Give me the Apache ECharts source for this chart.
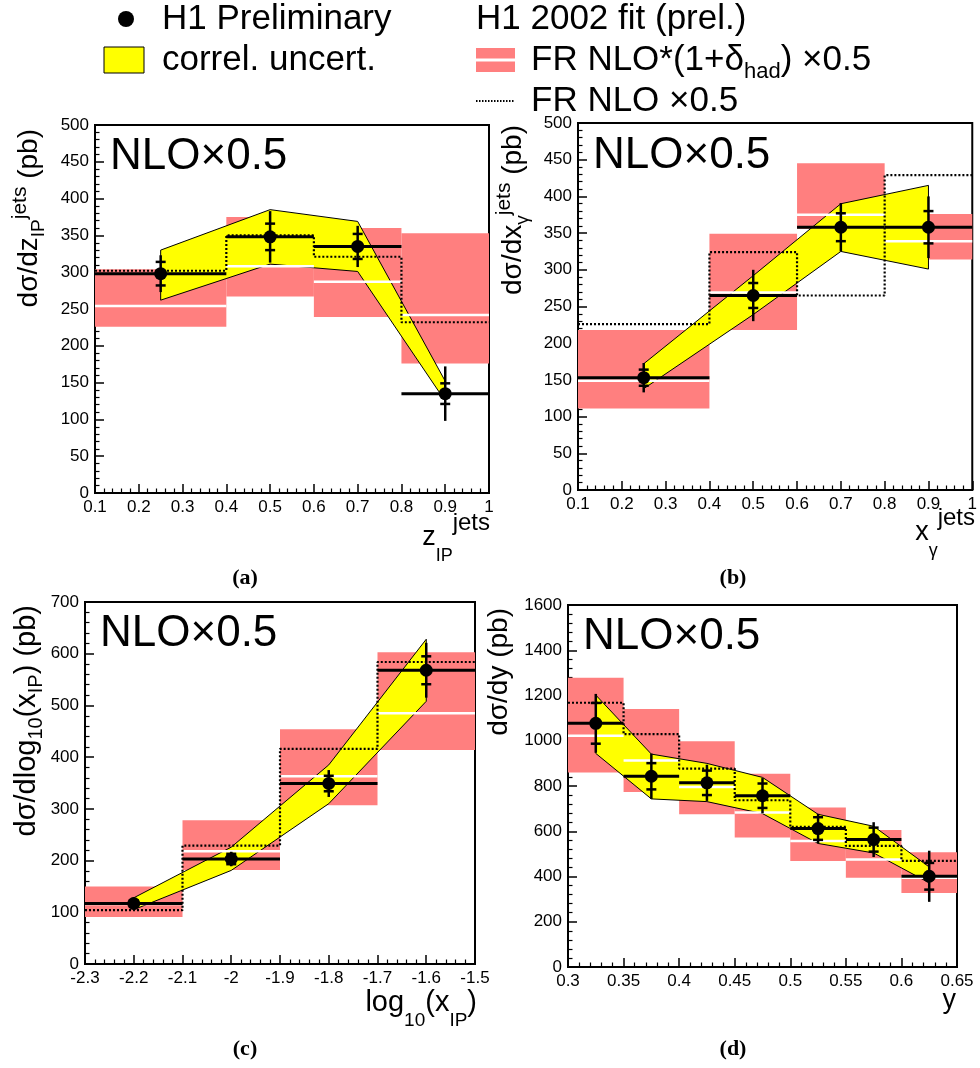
<!DOCTYPE html>
<html><head><meta charset="utf-8">
<script src="https://cdn.jsdelivr.net/npm/echarts@6/dist/echarts.min.js"></script>
<style>html,body{margin:0;padding:0;background:#fff}#c{width:980px;height:1068px}</style>
</head><body><div id="c"></div>
<script>
// ---------- Panel (a): z_IP^jets ----------
const aRange = [0.1, 1.0, 0.1, 0, 500, 50];
const aBinLo = [0.1, 0.4, 0.6, 0.8];
const aBinHi = [0.4, 0.6, 0.8, 1.0];
const aX = [0.25, 0.5, 0.7, 0.9];
const aY = [298, 348, 335, 135];
const aStat = [16, 18, 17, 14];
const aTot = [25, 35, 28, 37];
const aBandUp = [330, 385, 369, 152];
const aBandLow = [262, 311, 301, 125];
const aFrUp = [304, 375, 360, 353];
const aFrLow = [226, 267, 239, 176];
const aFrMid = [254, 308, 287, 242];
const aNlo = [302, 350, 321, 232];

// ---------- Panel (b): x_gamma^jets ----------
const bRange = [0.1, 1.0, 0.1, 0, 500, 50];
const bBinLo = [0.1, 0.4, 0.6, 0.8];
const bBinHi = [0.4, 0.6, 0.8, 1.0];
const bX = [0.25, 0.5, 0.7, 0.9];
const bY = [153, 265, 358, 358];
const bStat = [11, 17, 19, 22];
const bTot = [20, 35, 33, 42];
const bBandUp = [172, 292, 390, 415];
const bBandLow = [138, 239, 325, 301];
const bFrUp = [218, 349, 445, 376];
const bFrLow = [111, 218, 356, 314];
const bFrMid = [149, 269, 375, 339];
const bNlo = [226, 324, 265, 429];

// ---------- Panel (c): log10(x_IP) ----------
const cRange = [-2.3, -1.5, 0.1, 0, 700, 100];
const cBinLo = [-2.3, -2.1, -1.9, -1.7];
const cBinHi = [-2.1, -1.9, -1.7, -1.5];
const cX = [-2.2, -2.0, -1.8, -1.6];
const cY = [117, 203, 349, 568];
const cStat = [6, 10, 15, 27];
const cTot = [12, 14, 26, 53];
const cBandUp = [128, 226, 385, 628];
const cBandLow = [105, 181, 310, 508];
const cFrUp = [150, 278, 454, 603];
const cFrLow = [91, 182, 307, 414];
const cFrMid = [116, 218, 363, 485];
const cNlo = [104, 229, 416, 584];

// ---------- Panel (d): y ----------
const dRange = [0.3, 0.65, 0.05, 0, 1600, 200];
const dBinLo = [0.30, 0.35, 0.40, 0.45, 0.50, 0.55, 0.60];
const dBinHi = [0.35, 0.40, 0.45, 0.50, 0.55, 0.60, 0.65];
const dX = [0.325, 0.375, 0.425, 0.475, 0.525, 0.575, 0.625];
const dY = [1077, 843, 814, 757, 612, 563, 401];
const dStat = [90, 58, 54, 54, 50, 53, 59];
const dTot = [130, 100, 80, 78, 65, 77, 113];
const dBandUp = [1202, 941, 900, 838, 675, 622, 442];
const dBandLow = [944, 743, 731, 678, 546, 504, 372];
const dFrUp = [1279, 1140, 998, 854, 705, 605, 507];
const dFrLow = [860, 774, 675, 572, 469, 395, 327];
const dFrMid = [1022, 913, 796, 683, 557, 475, 394];
const dNlo = [1168, 1029, 877, 737, 619, 535, 469];

const FONT = "'Liberation Sans', Arial, Helvetica, sans-serif";
const RED = '#ff7f7f';
const YEL = '#ffff00';

const grids = [
  {left: 95, top: 125, width: 394, height: 368},
  {left: 578, top: 123, width: 395, height: 367},
  {left: 85, top: 602, width: 390, height: 362},
  {left: 568, top: 605, width: 389, height: 362}
];

function fmt(v) { return String(+(+v).toFixed(3)); }

function xAx(gi, r) {
  return {type: 'value', gridIndex: gi, min: r[0], max: r[1], interval: r[2],
    axisLine: {show: true, onZero: false, lineStyle: {color: '#000', width: 2}},
    axisTick: {show: true, inside: true, length: 9, lineStyle: {color: '#000', width: 1.5}},
    minorTick: {show: true, splitNumber: 5, length: 4.5, lineStyle: {color: '#000', width: 1.2}},
    splitLine: {show: false}, minorSplitLine: {show: false},
    axisLabel: {color: '#000', fontSize: 17, fontFamily: FONT, margin: 6, formatter: fmt}};
}
function yAx(gi, r) {
  return {type: 'value', gridIndex: gi, min: r[3], max: r[4], interval: r[5],
    axisLine: {show: true, onZero: false, lineStyle: {color: '#000', width: 2}},
    axisTick: {show: true, inside: true, length: 9, lineStyle: {color: '#000', width: 1.5}},
    minorTick: {show: true, splitNumber: 5, length: 4.5, lineStyle: {color: '#000', width: 1.2}},
    splitLine: {show: false}, minorSplitLine: {show: false},
    axisLabel: {color: '#000', fontSize: 17, fontFamily: FONT, margin: 6, formatter: fmt}};
}

function panelSeries(gi, lo, hi, xs, ys, st, tot, bUp, bLow, fUp, fLow, fMid, nlo) {
  const s = [];
  // NLO*(1+delta_had) band boxes
  s.push({type: 'custom', xAxisIndex: gi, yAxisIndex: gi, z: 1, silent: true,
    data: lo.map((l, i) => [l, hi[i], fLow[i], fUp[i]]),
    renderItem: (p, api) => {
      const p0 = api.coord([api.value(0), api.value(3)]);
      const p1 = api.coord([api.value(1), api.value(2)]);
      return {type: 'rect', shape: {x: p0[0], y: p0[1], width: p1[0] - p0[0], height: p1[1] - p0[1]},
        style: {fill: RED}};
    }});
  // correlated uncertainty band
  s.push({type: 'custom', xAxisIndex: gi, yAxisIndex: gi, z: 2, silent: true,
    data: xs.map((x, i) => [x, bUp[i], bLow[i]]),
    renderItem: (p, api) => {
      if (p.dataIndex !== 0) return {type: 'group', children: []};
      const up = xs.map((x, i) => api.coord([x, bUp[i]]));
      const dn = xs.map((x, i) => api.coord([x, bLow[i]])).reverse();
      return {type: 'polygon', shape: {points: up.concat(dn)},
        style: {fill: YEL, stroke: '#000', lineWidth: 1}};
    }});
  // central white lines
  s.push({type: 'custom', xAxisIndex: gi, yAxisIndex: gi, z: 3, silent: true,
    data: lo.map((l, i) => [l, hi[i], fMid[i]]),
    renderItem: (p, api) => {
      const p0 = api.coord([api.value(0), api.value(2)]);
      const p1 = api.coord([api.value(1), api.value(2)]);
      return {type: 'line', shape: {x1: p0[0], y1: p0[1], x2: p1[0], y2: p1[1]},
        style: {stroke: '#fff', lineWidth: 2.5}};
    }});
  // FR NLO x0.5 dotted histogram
  const stepData = lo.map((l, i) => [l, nlo[i]]);
  stepData.push([hi[hi.length - 1], nlo[nlo.length - 1]]);
  s.push({type: 'line', xAxisIndex: gi, yAxisIndex: gi, z: 4, silent: true, step: 'end',
    symbol: 'none', data: stepData,
    lineStyle: {color: '#000', width: 2.2, type: [2, 2]}});
  // data points
  s.push({type: 'custom', xAxisIndex: gi, yAxisIndex: gi, z: 5, silent: true,
    data: xs.map((x, i) => [x, ys[i], lo[i], hi[i], st[i], tot[i]]),
    renderItem: (p, api) => {
      const x = api.value(0), y = api.value(1), l = api.value(2), h = api.value(3),
        sv = api.value(4), tv = api.value(5);
      const c = api.coord([x, y]);
      const pl = api.coord([l, y]), ph = api.coord([h, y]);
      const t1 = api.coord([x, y + tv]), t2 = api.coord([x, y - tv]);
      const s1 = api.coord([x, y + sv]), s2 = api.coord([x, y - sv]);
      const blk = {stroke: '#000', lineWidth: 2.5};
      return {type: 'group', children: [
        {type: 'line', shape: {x1: pl[0], y1: pl[1], x2: ph[0], y2: ph[1]}, style: {stroke: '#000', lineWidth: 3}},
        {type: 'line', shape: {x1: t1[0], y1: t1[1], x2: t2[0], y2: t2[1]}, style: blk},
        {type: 'line', shape: {x1: s1[0] - 5, y1: s1[1], x2: s1[0] + 5, y2: s1[1]}, style: blk},
        {type: 'line', shape: {x1: s2[0] - 5, y1: s2[1], x2: s2[0] + 5, y2: s2[1]}, style: blk},
        {type: 'circle', shape: {cx: c[0], cy: c[1], r: 6.5}, style: {fill: '#000'}}
      ]};
    }});
  return s;
}

const series = [].concat(
  panelSeries(0, aBinLo, aBinHi, aX, aY, aStat, aTot, aBandUp, aBandLow, aFrUp, aFrLow, aFrMid, aNlo),
  panelSeries(1, bBinLo, bBinHi, bX, bY, bStat, bTot, bBandUp, bBandLow, bFrUp, bFrLow, bFrMid, bNlo),
  panelSeries(2, cBinLo, cBinHi, cX, cY, cStat, cTot, cBandUp, cBandLow, cFrUp, cFrLow, cFrMid, cNlo),
  panelSeries(3, dBinLo, dBinHi, dX, dY, dStat, dTot, dBandUp, dBandLow, dFrUp, dFrLow, dFrMid, dNlo)
);

// rich text styles
function rs(fs, lh, va) { return {fontSize: fs, lineHeight: lh, verticalAlign: va, fontFamily: FONT, fill: '#000', color: '#000'}; }
const RY = {m: rs(28, 39, 'middle'), sub: rs(19, 16, 'bottom'), sup: rs(21, 21, 'top')};
const RYC = {m: rs(29, 39, 'middle'), sub: rs(20, 16, 'bottom'), sup: rs(21, 21, 'top')};
const RX = {m: rs(27, 54, 'middle'), sub: rs(18, 27, 'bottom'), sup: rs(24, 24, 'top')};
const RXC = {m: rs(29, 54, 'middle'), sub: rs(19, 27, 'bottom'), sup: rs(24, 24, 'top')};
const RL = {m: rs(35, 46, 'middle'), sub: rs(22, 22, 'bottom')};

function txt(x, y, text, fs, align) {
  return {type: 'text', x: x, y: y, silent: true,
    style: {text: text, fontSize: fs, fontFamily: FONT, fill: '#000',
      align: align, textAlign: align, verticalAlign: 'middle', textVerticalAlign: 'middle'}};
}
function richTxt(x, y, text, rich, align, rot) {
  return {type: 'text', x: x, y: y, rotation: rot || 0, silent: true,
    style: {text: text, rich: rich, fontFamily: FONT, fill: '#000',
      align: align, textAlign: align, verticalAlign: 'middle', textVerticalAlign: 'middle'}};
}
function lab(x, y, t) {
  return {type: 'text', x: x, y: y, silent: true,
    style: {text: t, fontSize: 22, fontWeight: 'bold', fontFamily: "'Liberation Serif', 'DejaVu Serif', serif",
      fill: '#000', align: 'center', textAlign: 'center', verticalAlign: 'middle', textVerticalAlign: 'middle'}};
}

const R90 = Math.PI / 2;
const graphics = [
  // legend
  {type: 'circle', shape: {cx: 126, cy: 19, r: 8}, style: {fill: '#000'}, silent: true},
  txt(162, 19, 'H1 Preliminary', 35, 'left'),
  {type: 'rect', shape: {x: 104, y: 47, width: 40, height: 26}, style: {fill: YEL, stroke: '#000', lineWidth: 1}, silent: true},
  txt(162, 60, 'correl. uncert.', 35, 'left'),
  txt(476, 19, 'H1 2002 fit (prel.)', 35, 'left'),
  {type: 'rect', shape: {x: 476, y: 48, width: 39, height: 24}, style: {fill: RED}, silent: true},
  {type: 'line', shape: {x1: 476, y1: 60, x2: 515, y2: 60}, style: {stroke: '#fff', lineWidth: 3}, silent: true},
  richTxt(531, 60, '{m|FR NLO*(1+δ}{sub|had}{m|) ×0.5}', RL, 'left'),
  {type: 'line', shape: {x1: 476, y1: 101, x2: 515, y2: 101}, style: {stroke: '#000', lineWidth: 2, lineDash: [1.5, 1.5]}, silent: true},
  txt(531, 101, 'FR NLO ×0.5', 35, 'left'),
  // NLO x0.5 labels
  txt(110, 157, 'NLO×0.5', 44, 'left'),
  txt(593, 156, 'NLO×0.5', 44, 'left'),
  txt(100, 634, 'NLO×0.5', 44, 'left'),
  txt(583, 637, 'NLO×0.5', 44, 'left'),
  // y titles
  richTxt(29, 129, '{m|dσ/dz}{sub|IP}{sup|jets}{m| (pb)}', RY, 'right', R90),
  richTxt(513, 125, '{m|dσ/dx}{sub|γ}{sup|jets}{m| (pb)}', RY, 'right', R90),
  richTxt(27, 605, '{m|dσ/dlog}{sub|10}{m|(x}{sub|IP}{m|) (pb)}', RYC, 'right', R90),
  richTxt(499, 608, '{m|dσ/dy (pb)}', RY, 'right', R90),
  // x titles
  richTxt(490, 538, '{m|z}{sub|IP}{sup|jets}', RX, 'right'),
  richTxt(975, 533, '{m|x}{sub|γ}{sup|jets}', RX, 'right'),
  richTxt(477, 1003, '{m|log}{sub|10}{m|(x}{sub|IP}{m|)}', RXC, 'right'),
  richTxt(956, 1001, '{m|y}', RX, 'right'),
  // sub-figure labels
  lab(245, 578, '(a)'), lab(733, 578, '(b)'), lab(245, 1049, '(c)'), lab(733, 1049, '(d)')
];

const chart = echarts.init(document.getElementById('c'), null, {renderer: 'canvas'});
chart.setOption({
  animation: false,
  backgroundColor: '#fff',
  grid: grids.map(g => Object.assign({show: true, borderColor: '#000', borderWidth: 2, backgroundColor: 'transparent', containLabel: false}, g)),
  xAxis: [xAx(0, aRange), xAx(1, bRange), xAx(2, cRange), xAx(3, dRange)],
  yAxis: [yAx(0, aRange), yAx(1, bRange), yAx(2, cRange), yAx(3, dRange)],
  series: series,
  graphic: {elements: graphics}
});
</script></body></html>
